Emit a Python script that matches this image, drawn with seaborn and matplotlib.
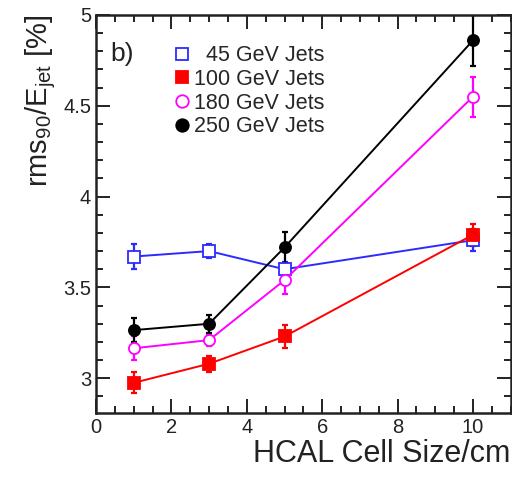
import numpy as np
import pandas as pd
import seaborn as sns
import matplotlib.pyplot as plt
from matplotlib.lines import Line2D
from matplotlib.ticker import MultipleLocator

# cell sizes
cell_size = [1, 3, 5, 10]

# rms90/E_jet [%] and errors per jet energy
labels = ['45 GeV Jets', '100 GeV Jets', '180 GeV Jets', '250 GeV Jets']
rms_45 = [3.67, 3.70, 3.60, 3.76]
err_45 = [0.07, 0.04, 0.04, 0.06]
rms_100 = [2.975, 3.08, 3.23, 3.79]
err_100 = [0.057, 0.045, 0.065, 0.06]
rms_180 = [3.165, 3.21, 3.54, 4.55]
err_180 = [0.065, 0.03, 0.075, 0.11]
rms_250 = [3.265, 3.30, 3.72, 4.86]
err_250 = [0.065, 0.05, 0.085, 0.14]

series = [
    (labels[0], rms_45, err_45, '#2b2bff', 's', 'none'),
    (labels[1], rms_100, err_100, '#ff0000', 's', '#ff0000'),
    (labels[2], rms_180, err_180, '#ff00ff', 'o', 'none'),
    (labels[3], rms_250, err_250, '#000000', 'o', '#000000'),
]

sns.set_style('ticks')
plt.rcParams['font.family'] = ['Liberation Sans', 'DejaVu Sans']
plt.rcParams['mathtext.fontset'] = 'custom'
plt.rcParams['mathtext.rm'] = 'Liberation Sans'

fig = plt.figure(figsize=(5.12, 4.8), dpi=100)
ax = fig.add_axes([0.1875, 0.14, 0.81, 0.829])

handles = []
for name, vals, errs, col, mk, fc in series:
    df = pd.DataFrame({'size': cell_size, 'rms': vals})
    sns.lineplot(data=df, x='size', y='rms', ax=ax, color=col, linewidth=1.4,
                 marker=mk, markersize=8, markerfacecolor=fc if fc != 'none' else 'white',
                 markeredgecolor=col, markeredgewidth=1.3, zorder=3)
    ax.errorbar(cell_size, vals, yerr=errs, fmt='none', ecolor=col,
                elinewidth=1.6, capsize=2, capthick=1.6, zorder=2)
    handles.append(Line2D([], [], linestyle='none', marker=mk, markersize=9,
                          markerfacecolor=fc, markeredgecolor=col, markeredgewidth=1.3))

ax.set_xlim(0, 11)
ax.set_ylim(2.81, 5)
ax.xaxis.set_major_locator(MultipleLocator(2))
ax.xaxis.set_minor_locator(MultipleLocator(0.5))
ax.yaxis.set_minor_locator(MultipleLocator(0.1))
ax.set_yticks([3, 3.5, 4, 4.5, 5])
ax.set_yticklabels(['3', '3.5', '4', '4.5', '5'])

ax.tick_params(which='both', direction='in', top=True, right=True, width=1.4,
               labelsize=14.5, colors='#222222')
ax.tick_params(which='major', length=10)
ax.tick_params(which='minor', length=5)
for s in ax.spines.values():
    s.set_linewidth(1.8)
    s.set_color('#222222')

ax.set_xlabel('HCAL Cell Size/cm', fontsize=22, loc='right', color='#222222', labelpad=2)
ax.set_ylabel(r'rms$_{\rm 90}$/E$_{\rm jet}$ [%]', fontsize=21, loc='top',
              color='#222222', labelpad=4)

ax.text(0.035, 0.885, 'b)', transform=ax.transAxes, fontsize=19, color='#222222')

leg_labels = ['\u2007' + labels[0], labels[1], labels[2], labels[3]]
ax.legend(handles, leg_labels, loc='upper left', bbox_to_anchor=(0.17, 0.945),
          frameon=False, fontsize=15.5, handlelength=0.6, handletextpad=0.3,
          labelspacing=0.12, borderaxespad=0)

fig.savefig('out.png', dpi=100)
